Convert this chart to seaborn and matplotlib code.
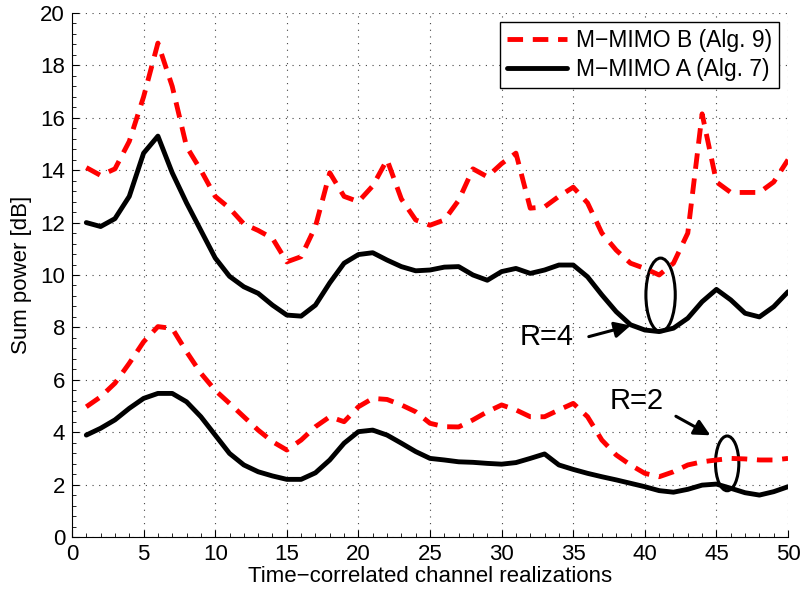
import numpy as np
import pandas as pd
import seaborn as sns
import matplotlib
matplotlib.use("Agg")
import matplotlib.pyplot as plt
from matplotlib.patches import Ellipse
from matplotlib.ticker import MultipleLocator

# Channel realization index
realizations = list(range(1, 51))

# M-MIMO B (Alg. 9), R=4
b_r4 = [14.1, 13.8, 14.05, 15.1, 16.8, 18.85, 17.2, 14.9, 14.0, 13.0,
        12.55, 11.95, 11.7, 11.4, 10.5, 10.7, 11.85, 13.9, 13.0, 12.8,
        13.4, 14.4, 12.9, 12.1, 11.9, 12.1, 12.85, 14.05, 13.75, 14.25,
        14.65, 12.55, 12.6, 13.0, 13.35, 12.75, 11.6, 10.95, 10.45, 10.25,
        10.0, 10.45, 11.6, 16.15, 13.55, 13.15, 13.15, 13.15, 13.55, 14.4]

# M-MIMO A (Alg. 7), R=4
a_r4 = [12.0, 11.85, 12.15, 13.0, 14.65, 15.3, 13.9, 12.75, 11.7, 10.65,
        9.95, 9.55, 9.3, 8.85, 8.47, 8.43, 8.85, 9.7, 10.45, 10.78,
        10.85, 10.57, 10.32, 10.16, 10.19, 10.3, 10.32, 10.0, 9.8, 10.13,
        10.25, 10.06, 10.19, 10.38, 10.38, 9.93, 9.24, 8.6, 8.1, 7.9,
        7.84, 7.97, 8.35, 8.98, 9.45, 9.05, 8.54, 8.4, 8.79, 9.36]

# M-MIMO B (Alg. 9), R=2
b_r2 = [4.97, 5.35, 5.87, 6.63, 7.45, 8.03, 7.96, 7.07, 6.25, 5.6,
        5.1, 4.59, 4.08, 3.64, 3.32, 3.7, 4.21, 4.59, 4.4, 4.97,
        5.29, 5.25, 5.04, 4.78, 4.34, 4.21, 4.2, 4.47, 4.78, 5.04,
        4.85, 4.59, 4.59, 4.85, 5.1, 4.59, 3.7, 3.13, 2.75, 2.43,
        2.3, 2.49, 2.75, 2.87, 2.94, 3.0, 2.98, 2.94, 2.94, 3.0]

# M-MIMO A (Alg. 7), R=2
a_r2 = [3.89, 4.15, 4.47, 4.91, 5.29, 5.48, 5.48, 5.16, 4.59, 3.89,
        3.19, 2.75, 2.49, 2.33, 2.2, 2.2, 2.45, 2.94, 3.58, 4.02,
        4.08, 3.89, 3.58, 3.26, 3.0, 2.94, 2.87, 2.85, 2.81, 2.78,
        2.84, 3.0, 3.17, 2.75, 2.58, 2.43, 2.3, 2.18, 2.05, 1.92,
        1.77, 1.71, 1.82, 1.98, 2.02, 1.86, 1.69, 1.6, 1.73, 1.92]

sns.set_style("ticks")
plt.rcParams['font.family'] = ['Liberation Sans', 'DejaVu Sans']
plt.rcParams['text.color'] = 'black'
plt.rcParams['axes.labelcolor'] = 'black'
plt.rcParams['xtick.color'] = 'black'
plt.rcParams['ytick.color'] = 'black'
plt.rcParams['axes.edgecolor'] = 'black'
plt.rcParams['xtick.direction'] = 'in'
plt.rcParams['ytick.direction'] = 'in'

fig = plt.figure(figsize=(8.07, 5.98), dpi=100)
ax = fig.add_axes([0.0892, 0.102, 0.8873, 0.8763])

df = pd.DataFrame({'x': realizations, 'b4': b_r4, 'a4': a_r4, 'b2': b_r2, 'a2': a_r2})

dash = (3.2, 2.0)
sns.lineplot(x='x', y='b4', data=df, ax=ax, color='red', linewidth=3.5,
             label='M\u2212MIMO B (Alg. 9)')
sns.lineplot(x='x', y='a4', data=df, ax=ax, color='black', linewidth=3.5,
             label='M\u2212MIMO A (Alg. 7)')
sns.lineplot(x='x', y='b2', data=df, ax=ax, color='red', linewidth=3.5, legend=False)
sns.lineplot(x='x', y='a2', data=df, ax=ax, color='black', linewidth=3.5, legend=False)
for i in (0, 2):
    ax.lines[i].set_dashes(dash)

ax.set_xlim(0, 50)
ax.set_ylim(0, 20)
ax.xaxis.set_major_locator(MultipleLocator(5))
ax.xaxis.set_minor_locator(MultipleLocator(1))
ax.yaxis.set_major_locator(MultipleLocator(2))
ax.yaxis.set_minor_locator(MultipleLocator(0.4))
ax.tick_params(which='major', length=5, labelsize=16, width=0.8, pad=5)
ax.tick_params(which='minor', length=3, width=0.6)
ax.grid(True, which='major', linestyle=(0, (1, 5)), color='#444444', linewidth=0.8)
sns.despine(ax=ax)

ax.set_xlabel('Time\u2212correlated channel realizations', fontsize=16, labelpad=1)
ax.set_ylabel('Sum power [dB]', fontsize=16, labelpad=6)

# Annotations: ellipses and arrows
ax.add_patch(Ellipse((41.1, 9.24), 2.05, 2.81, fill=False, edgecolor='black', linewidth=2.2))
ax.add_patch(Ellipse((45.75, 2.81), 1.63, 2.09, fill=False, edgecolor='black', linewidth=2.2))
ax.annotate('', xy=(39.2, 8.1), xytext=(35.9, 7.62),
            arrowprops=dict(arrowstyle='-|>', color='black', lw=2.2, mutation_scale=24))
ax.annotate('', xy=(44.75, 3.83), xytext=(42.0, 4.66),
            arrowprops=dict(arrowstyle='-|>', color='black', lw=2.2, mutation_scale=24))
ax.text(33.15, 7.65, 'R=4', fontsize=21, ha='center', va='center')
ax.text(39.4, 5.19, 'R=2', fontsize=21, ha='center', va='center')

leg = ax.legend(loc='upper right', fontsize=16.5, frameon=True, fancybox=False,
                handlelength=2.6, borderpad=0.3, labelspacing=0.25,
                handletextpad=0.4, borderaxespad=0.4)
leg.get_frame().set_edgecolor('black')
leg.get_frame().set_linewidth(1.0)
leg.get_frame().set_alpha(1.0)
leg.legend_handles[0].set_dashes(dash)

fig.savefig('out.png', dpi=100)
